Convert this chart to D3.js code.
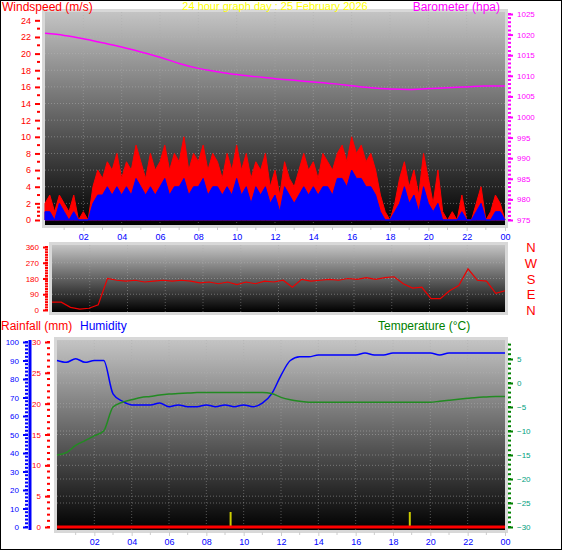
<!DOCTYPE html><html><head><meta charset="utf-8">
<script src="https://cdn.jsdelivr.net/npm/d3@7"></script>
<style>body{margin:0;background:#fff}svg{font-family:"Liberation Sans",Arial,sans-serif}</style></head><body>
<svg id="c" width="566" height="555"></svg>
<script>
const hourTicks=["02","04","06","08","10","12","14","16","18","20","22","00"];
const gust=[2,3,1,3,2,1,3,0,1,0,4,6,5,7,6,8,5,7,6,9,7,5,8,6,7,9,6,8,7,10,6,8,7,9,6,8,7,5,8,6,9,6,8,5,7,6,8,4,6,3,7,5,4,6,8,6,7,5,8,7,6,8,9,7,10,8,9,7,8,6,3,1,0,2,5,7,4,6,3,8,5,2,6,1,0,1,0,3,0,0,2,4,0,1,3,2,0];
const speed=[1,1,0,2,1,0,1,0,0,0,2,3,3,4,3,4,3,4,3,5,4,3,4,3,4,5,3,4,4,5,3,4,4,5,3,4,4,3,4,3,5,3,4,2,4,3,4,2,3,1,4,3,2,3,4,3,4,3,4,4,3,5,5,4,6,5,5,4,4,3,1,0,0,1,2,4,2,3,1,4,2,1,2,0,0,0,0,1,0,0,1,2,0,0,1,1,0];
const pressure=[1020.3,1019.8,1019,1018,1017,1015.8,1014.5,1013,1011.8,1011,1010.3,1009.8,1009.3,1008.9,1008.5,1008.1,1007.6,1007.1,1006.8,1006.7,1006.9,1007.1,1007.3,1007.5,1007.5];
const direction=[45,45,15,5,10,30,180,170,165,170,160,165,170,165,170,165,155,160,150,160,145,160,150,165,160,170,130,175,165,170,175,170,180,175,185,175,185,190,150,125,130,65,65,110,140,235,170,165,95,110];
const humidity=[90,89,91,89,90,90,72,68,66,66,66,67,65,66,65,65,66,65,66,65,66,65,67,72,82,90,92,92,93,93,93,93,93,94,93,93,94,94,94,94,94,93,94,94,94,94,94,94,94];
const temperature=[-15,-14.5,-13,-12,-11,-10,-5,-4,-3.5,-3,-2.8,-2.5,-2.3,-2.2,-2.1,-2,-2,-2,-2,-2,-2,-2,-2,-2.2,-3,-3.5,-3.8,-4,-4,-4,-4,-4,-4,-4,-4,-4,-4,-4,-4,-4,-4,-3.8,-3.6,-3.4,-3.2,-3,-2.9,-2.8,-2.8];
const rainfall=[0,0];
const rainMarks=[9.3,18.9];
const dirLabels=["N","W","S","E","N"];

const svg=d3.select("#c");
svg.append("rect").attr("x",0.5).attr("y",0.5).attr("width",561).attr("height",549).attr("fill","none").attr("stroke","#000");
const defs=svg.append("defs");
const g=defs.append("linearGradient").attr("id","bg").attr("x1",0).attr("y1",0).attr("x2",0).attr("y2",1);
g.append("stop").attr("offset","0%").attr("stop-color","#c4c4c4");
g.append("stop").attr("offset","100%").attr("stop-color","#000");
const t=(a)=>a.map((v,i)=>[i*24/(a.length-1),v]);

function panel(x0,x1,y0,y1){
  svg.append("rect").attr("x",x0-3).attr("y",y0-3).attr("width",x1-x0+6).attr("height",y1-y0+6).attr("fill","#d8d8d8");
  svg.append("rect").attr("x",x0).attr("y",y0).attr("width",x1-x0).attr("height",y1-y0).attr("fill","url(#bg)");
  const x=d3.scaleLinear().domain([0,24]).range([x0,x1]);
  for(let h=2;h<24;h+=2) svg.append("line").attr("x1",x(h)).attr("x2",x(h)).attr("y1",y0).attr("y2",y1).attr("stroke","#aaa").attr("stroke-opacity",0.45).attr("stroke-dasharray","1,2");
  return x;
}
function hgrid(x,y,vals){vals.forEach(v=>svg.append("line").attr("x1",x.range()[0]).attr("x2",x.range()[1]).attr("y1",y(v)).attr("y2",y(v)).attr("stroke","#bbb").attr("stroke-opacity",0.45).attr("stroke-dasharray","1,2"));}
function axis(scale,xpos,orient,ticks,color,minor,fs){
  const ax=(orient==="left"?d3.axisLeft(scale):d3.axisRight(scale)).tickValues(ticks).tickFormat(d3.format("d")).tickSize(5).tickPadding(4);
  const gg=svg.append("g").attr("transform",`translate(${xpos},0)`).call(ax);
  gg.select(".domain").remove();
  gg.selectAll("line").attr("stroke",color).attr("stroke-width",2);
  gg.selectAll("text").attr("fill",color).attr("font-size",fs||9);
  const mg=svg.append("g");
  minor.forEach(v=>mg.append("line").attr("x1",xpos).attr("x2",orient==="left"?xpos-3:xpos+3).attr("y1",scale(v)).attr("y2",scale(v)).attr("stroke",color).attr("stroke-width",2));
  return gg;
}
function xaxis(x,y){
  const ax=d3.axisBottom(x).tickValues(d3.range(2,25,2)).tickFormat((d,i)=>hourTicks[i]).tickSize(4);
  const gg=svg.append("g").attr("transform",`translate(0,${y})`).call(ax);
  gg.select(".domain").remove();
  gg.selectAll("line").attr("stroke","#ccc");
  gg.selectAll("text").attr("fill","#00f").attr("font-size",9);
  d3.range(1,24,1).filter(h=>h%2).forEach(h=>svg.append("line").attr("x1",x(h)).attr("x2",x(h)).attr("y1",y).attr("y2",y+3).attr("stroke","#ccc"));
}

// Top panel
const x1=panel(45,505,12,225);
const yW=d3.scaleLinear().domain([0,25]).range([220,12]);
const yP=d3.scaleLinear().domain([975,1025]).range([220,14]);
hgrid(x1,yW,[2,4,6,8,10,12,14,16,18,20,22,24]);
svg.append("path").datum(t(gust)).attr("fill","#f00").attr("stroke","#f00").attr("stroke-width",1)
  .attr("d",d3.area().x(d=>x1(d[0])).y0(yW(0)).y1(d=>yW(d[1])).curve(d3.curveLinear));
svg.append("path").datum(t(speed)).attr("fill","#00f").attr("stroke","#00f").attr("stroke-width",1)
  .attr("d",d3.area().x(d=>x1(d[0])).y0(yW(0)).y1(d=>yW(d[1])).curve(d3.curveLinear));
svg.append("path").datum(t(pressure)).attr("fill","none").attr("stroke","#f0f").attr("stroke-width",1.5)
  .attr("d",d3.line().x(d=>x1(d[0])).y(d=>yP(d[1])).curve(d3.curveMonotoneX));
axis(yW,40,"left",d3.range(0,25,2),"#f00",d3.range(1,25,2).concat([0.5,1.5]).filter(v=>v<=24.5));
axis(yP,508,"right",d3.range(975,1026,5),"#f0f",d3.range(975,1026,1),8);
xaxis(x1,227);
svg.append("text").attr("x",2).attr("y",11).attr("fill","#f00").attr("font-size",12).text("Windspeed (m/s)");
svg.append("text").attr("x",275).attr("y",10).attr("fill","#ffff00").attr("font-size",11).attr("text-anchor","middle").text("24 hour graph day : 25 February 2026");
svg.append("text").attr("x",500).attr("y",11).attr("fill","#f0f").attr("font-size",12).attr("text-anchor","end").text("Barometer (hpa)");

// Middle panel
const x2=panel(52,505,245,312);
const yD=d3.scaleLinear().domain([0,360]).range([310,247]);
hgrid(x2,yD,[90,180,270]);
svg.append("path").datum(t(direction)).attr("fill","none").attr("stroke","#e00").attr("stroke-width",1.2)
  .attr("d",d3.line().x(d=>x2(d[0])).y(d=>yD(d[1])).curve(d3.curveLinear));
axis(yD,48,"left",[0,90,180,270,360],"#f00",d3.range(0,361,15),8);
dirLabels.forEach((l,i)=>svg.append("text").attr("x",531).attr("y",yD(360-i*90)+5).attr("fill","#f00").attr("font-size",13).attr("text-anchor","middle").text(l));

// Bottom panel
svg.append("text").attr("x",1).attr("y",330).attr("fill","#f00").attr("font-size",12).text("Rainfall (mm)");
svg.append("text").attr("x",80).attr("y",330).attr("fill","#00f").attr("font-size",12).text("Humidity");
svg.append("text").attr("x",378).attr("y",330).attr("fill","#008000").attr("font-size",12).text("Temperature (°C)");
const x3=panel(57,505,340,530);
const yH=d3.scaleLinear().domain([0,100]).range([527,342]);
const yR=d3.scaleLinear().domain([0,30]).range([527,342]);
const yT=d3.scaleLinear().domain([-30,5]).range([527,359]);
hgrid(x3,yR,[5,10,15,20,25,30]);
hgrid(x3,yT,[-25,-20,-15,-10,-5,0,5]);
rainMarks.forEach(h=>svg.append("line").attr("x1",x3(h)).attr("x2",x3(h)).attr("y1",527).attr("y2",512).attr("stroke","#cc0").attr("stroke-width",2));
svg.append("path").datum(t(rainfall)).attr("fill","none").attr("stroke","#f00").attr("stroke-width",3)
  .attr("d",d3.line().x(d=>x3(d[0])).y(d=>yR(d[1])));
svg.append("path").datum(t(humidity)).attr("fill","none").attr("stroke","#00f").attr("stroke-width",1.5)
  .attr("d",d3.line().x(d=>x3(d[0])).y(d=>yH(d[1])).curve(d3.curveMonotoneX));
svg.append("path").datum(t(temperature)).attr("fill","none").attr("stroke","#228b22").attr("stroke-width",1.5)
  .attr("d",d3.line().x(d=>x3(d[0])).y(d=>yT(d[1])).curve(d3.curveMonotoneX));
svg.append("line").attr("x1",30).attr("x2",30).attr("y1",340).attr("y2",530).attr("stroke","#00f").attr("stroke-width",3);
axis(yH,28,"left",d3.range(0,101,10),"#00f",d3.range(0,101,2),8);
axis(yR,50,"left",d3.range(0,31,5),"#f00",d3.range(0,31,1),8);
axis(yT,508,"right",d3.range(-30,6,5),"#008000",d3.range(-30,9,1),8).selectAll("text").attr("fill","#00a080");
xaxis(x3,532);
</script></body></html>
